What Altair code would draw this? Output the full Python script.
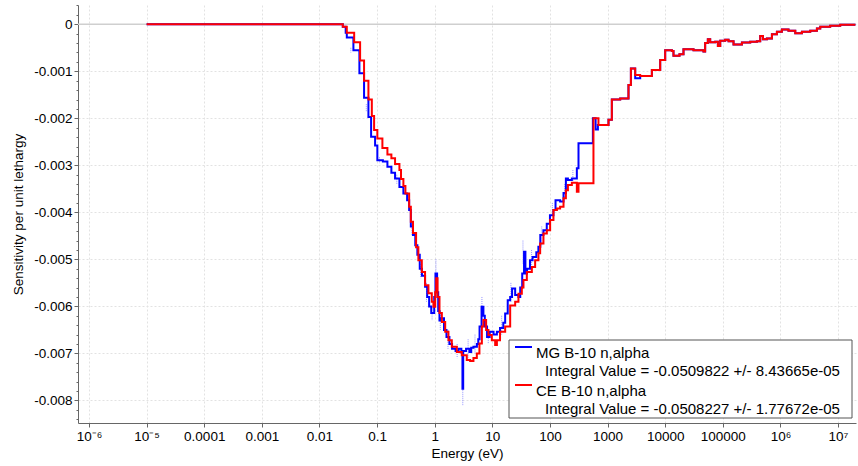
import math
import altair as alt
import pandas as pd

# ---------------- data ----------------
SERIES = ["MG B-10 n,alpha", "CE B-10 n,alpha"]
INTEGRALS = [
    "Integral Value = -0.0509822 +/- 8.43665e-05",
    "Integral Value = -0.0508227 +/- 1.77672e-05",
]
COLORS = ["#0000ff", "#ff0000"]

X_TICKS = [1e-6, 1e-5, 1e-4, 1e-3, 1e-2, 1e-1, 1, 10, 100, 1000, 1e4, 1e5, 1e6, 1e7]
X_LABELS = ["10⁻⁶", "10⁻⁵", "0.0001", "0.001", "0.01", "0.1", "1", "10",
            "100", "1000", "10000", "100000", "10⁶", "10⁷"]
Y_TICKS = [0, -0.001, -0.002, -0.003, -0.004, -0.005, -0.006, -0.007, -0.008]
Y_LABELS = ["0", "-0.001", "-0.002", "-0.003", "-0.004", "-0.005", "-0.006", "-0.007", "-0.008"]

E_END = 2.0e7  # upper edge of the last energy group

# shared high-energy part (both curves overlap there)
high_common = [
    (3683, -0.0011), (5875, -0.00097), (8190, -0.00076), (10000, -0.00055),
    (13070, -0.00057), (13930, -0.00067), (17700, -0.00064), (20780, -0.00053),
    (31000, -0.00055), (46200, -0.00058), (49400, -0.0004), (55000, -0.00032),
    (60400, -0.00038), (73800, -0.00037), (82200, -0.00046), (90200, -0.00035),
    (110000, -0.00033), (125700, -0.00036), (153500, -0.00043), (214700, -0.00039),
    (299000, -0.00037), (391000, -0.00036), (446000, -0.00025), (497000, -0.00032),
    (583000, -0.0003), (712000, -0.00021), (869000, -0.00016), (1.06e6, -0.00011),
    (1.38e6, -0.00014), (1.81e6, -0.00019), (2.36e6, -0.00016), (3.29e6, -0.00014),
    (4.3e6, -0.00009), (4.91e6, -0.00005), (7.3e6, -0.00003), (1.09e7, -0.00001),
]

ce_steps = [
    (1e-5, 0.0), (0.0254, -0.00005), (0.0298, -0.00018), (0.040, -0.00038),
    (0.0507, -0.00077), (0.0594, -0.0012), (0.0707, -0.0016), (0.081, -0.00195),
    (0.0887, -0.00225), (0.101, -0.00243), (0.1236, -0.00263), (0.151, -0.00277),
    (0.177, -0.00285), (0.205, -0.00297), (0.244, -0.0031), (0.26, -0.00329),
    (0.286, -0.00344), (0.31, -0.0036), (0.36, -0.00388), (0.385, -0.0042),
    (0.42, -0.00444), (0.475, -0.00474), (0.52, -0.00502), (0.597, -0.00527),
    (0.68, -0.00555), (0.778, -0.00572), (0.89, -0.0059), (0.95, -0.00601),
    (1.02, -0.0057), (1.06, -0.0054), (1.12, -0.0058), (1.21, -0.00614),
    (1.33, -0.00633), (1.52, -0.00654), (1.73, -0.00672), (1.98, -0.00686),
    (2.42, -0.00697), (2.95, -0.00704), (3.6, -0.00714), (4.12, -0.00716),
    (4.7, -0.0071), (5.38, -0.007), (5.97, -0.00679), (6.58, -0.00643),
    (7.0, -0.00629), (7.8, -0.0065), (8.55, -0.00661), (9.8, -0.00672),
    (11.2, -0.00682), (12.0, -0.00672), (13.6, -0.00654), (16.7, -0.00643),
    (20.4, -0.00598), (24.9, -0.0059), (28.4, -0.00573), (32.5, -0.0056),
    (34.7, -0.00544), (39.7, -0.00527), (48.5, -0.00516), (55.3, -0.00502),
    (63.1, -0.00487), (67.6, -0.00466), (77.1, -0.00445), (88.3, -0.00438),
    (100.7, -0.00416), (115, -0.00395), (132, -0.00392), (150, -0.00388),
    (172, -0.0037), (189, -0.00353), (205, -0.00342), (240, -0.00337),
    (293, -0.00356), (313, -0.00338), (569, -0.002), (695, -0.00214),
    (1038, -0.00203), (1186, -0.0016), (1655, -0.00158), (2307, -0.00129),
    (2540, -0.00094), (3016, -0.00108),
] + high_common

mg_steps = [
    (1e-5, 0.0), (0.0254, -0.00005), (0.0285, -0.00018), (0.0298, -0.00028),
    (0.0388, -0.00055), (0.0493, -0.00104), (0.0594, -0.00156), (0.0707, -0.00197),
    (0.0787, -0.00239), (0.0923, -0.00258), (0.101, -0.00289), (0.126, -0.00292),
    (0.151, -0.00303), (0.177, -0.00316), (0.205, -0.00328), (0.244, -0.00346),
    (0.286, -0.0036), (0.332, -0.00374), (0.36, -0.00395), (0.385, -0.0043),
    (0.42, -0.00448), (0.46, -0.0047), (0.5, -0.0049), (0.55, -0.0052),
    (0.6, -0.00535), (0.68, -0.00558), (0.74, -0.0058), (0.8, -0.006),
    (0.87, -0.00614), (0.98, -0.0058), (1.03, -0.0053), (1.1, -0.0057),
    (1.15, -0.0061), (1.21, -0.0063), (1.3, -0.00625), (1.45, -0.0065),
    (1.6, -0.00665), (1.8, -0.0068), (2.0, -0.0069), (2.3, -0.00695),
    (2.6, -0.0069), (2.9, -0.00698), (3.03, -0.00775), (3.12, -0.00695),
    (3.5, -0.0069), (4.0, -0.00697), (4.3, -0.00688), (4.7, -0.00686),
    (5.4, -0.0068), (5.7, -0.0067), (6.0, -0.00643), (6.5, -0.00601),
    (7.0, -0.0062), (7.4, -0.00643), (8.1, -0.00665), (9.0, -0.00654),
    (10.5, -0.0066), (12, -0.00654), (13.6, -0.00646), (15.5, -0.00635),
    (16.7, -0.00615), (18.5, -0.00587), (20.4, -0.0058), (22, -0.00562),
    (24.9, -0.00576), (28.4, -0.0058), (30.5, -0.0056), (33, -0.0053),
    (35.5, -0.00484), (37.5, -0.0053), (40, -0.0052), (45, -0.00502),
    (50, -0.00495), (58, -0.00485), (63, -0.00473), (68, -0.00448),
    (77, -0.00438), (88, -0.00424), (100, -0.00406), (115, -0.00395),
    (125, -0.00374), (150, -0.00377), (172, -0.00359), (189, -0.00328),
    (205, -0.00331), (240, -0.00328), (293, -0.00306), (313, -0.00253),
    (556, -0.002), (620, -0.00224), (680, -0.00214), (1038, -0.00203),
    (1186, -0.0016), (1655, -0.00158), (2307, -0.00129), (2540, -0.00094),
    (3016, -0.00115),
] + high_common

# MG statistical error bars (energy, low, high)
mg_errors = [
    (0.035, -0.0005, -0.0006), (0.065, -0.0017, -0.00185), (0.11, -0.00283, -0.00296),
    (0.22, -0.0032, -0.0034), (0.4, -0.0042, -0.0045), (0.57, -0.0051, -0.0054),
    (0.72, -0.0055, -0.0059), (0.9, -0.006, -0.0063), (1.05, -0.005, -0.0056),
    (1.25, -0.0061, -0.0065), (1.7, -0.0065, -0.0069), (2.45, -0.0068, -0.0071),
    (3.07, -0.0074, -0.0081), (3.8, -0.0067, -0.0071), (5.0, -0.0066, -0.007),
    (6.6, -0.0058, -0.0062), (8.5, -0.0065, -0.0068), (14.5, -0.0062, -0.0066),
    (21, -0.0055, -0.0059), (34, -0.0046, -0.0051), (48, -0.0048, -0.0052),
    (72, -0.0043, -0.0047), (110, -0.0038, -0.0041), (180, -0.0034, -0.0037),
    (250, -0.0031, -0.0034),
]

# ---------------- tables ----------------
rows = []
for name, steps in zip(SERIES, [mg_steps, ce_steps]):
    for e, v in steps:
        rows.append({"energy": e, "value": v, "series": name})
    rows.append({"energy": E_END, "value": steps[-1][1], "series": name})
df = pd.DataFrame(rows)
err_df = pd.DataFrame(mg_errors, columns=["energy", "lo", "hi"])
one = pd.DataFrame({"k": [0]})

FONT = "Liberation Sans"

x_expr = ":".join(
    f"abs(log(datum.value)/LN10-({round(math.log10(v))}))<0.01?'{lab}'"
    for v, lab in zip(X_TICKS, X_LABELS)) + ":''"
y_expr = ":".join(
    f"abs(datum.value-({v}))<1e-7?'{lab}'" for v, lab in zip(Y_TICKS, Y_LABELS)) + ":''"
y_minor = [round(0.0004 - 0.0002 * i, 4) for i in range(45)]
y_major_test = "abs(datum.value*1000-round(datum.value*1000))<0.001"

x_scale = alt.Scale(type="log", domain=[6.44e-7, 2.05e7])
y_scale = alt.Scale(domain=[-0.00848, 0.00041], nice=False, zero=False)

x_axis = alt.Axis(values=X_TICKS, labelExpr=x_expr, grid=True, tickSize=4,
                  labelPadding=2, titlePadding=4, labelFlush=False, labelOverlap=False)
y_axis = alt.Axis(values=y_minor, labelExpr=y_expr, grid=True,
                  tickSize={"condition": {"test": y_major_test, "value": 4}, "value": 2},
                  gridOpacity={"condition": {"test": y_major_test, "value": 1}, "value": 0},
                  labelPadding=2, titlePadding=8, labelOverlap=False, labelFlush=False)

X = lambda f: alt.X(f"{f}:Q", scale=x_scale, axis=x_axis, title="Energy (eV)")
Y = lambda f: alt.Y(f"{f}:Q", scale=y_scale, axis=y_axis, title="Sensitivity per unit lethargy")

color = alt.Color("series:N", scale=alt.Scale(domain=SERIES, range=COLORS), legend=None)

zero_line = alt.Chart(pd.DataFrame({"value": [0.0]})).mark_rule(
    color="#cfcfcf", strokeWidth=1.5).encode(y=Y("value"))

err = alt.Chart(err_df).mark_rule(color="#7878ff", strokeWidth=1, strokeDash=[1, 1],
                                  opacity=0.8).encode(x=X("energy"), y=Y("lo"), y2="hi")

lines = [
    alt.Chart(df).transform_filter(alt.datum.series == s).mark_line(
        interpolate="step-after", strokeWidth=2).encode(x=X("energy"), y=Y("value"), color=color)
    for s in SERIES
]

# ---------------- legend box (drawn manually) ----------------
legend_layers = [
    alt.Chart(one).mark_rect(fill="white", stroke="#555555", strokeWidth=1).encode(
        x=alt.value(431), x2=alt.value(774), y=alt.value(335), y2=alt.value(413))
]
for i, (name, integ, col) in enumerate(zip(SERIES, INTEGRALS, COLORS)):
    dy = 38 * i
    legend_layers.append(alt.Chart(one).mark_rule(color=col, strokeWidth=2).encode(
        x=alt.value(437), x2=alt.value(454), y=alt.value(342 + dy)))
    legend_layers.append(alt.Chart(one).mark_text(
        align="left", baseline="middle", font=FONT, fontSize=15, color="#000").encode(
        x=alt.value(458), y=alt.value(347.5 + dy), text=alt.value(name)))
    legend_layers.append(alt.Chart(one).mark_text(
        align="left", baseline="middle", font=FONT, fontSize=15, color="#000").encode(
        x=alt.value(467), y=alt.value(366 + dy), text=alt.value(integ)))

chart = alt.layer(zero_line, err, *lines, *legend_layers).properties(
    width=778, height=418,
    padding={"left": 78, "top": 5, "right": 2, "bottom": 43},
    autosize=alt.AutoSizeParams(type="none"),
).configure_view(stroke=None).configure_axis(
    labelFont=FONT, titleFont=FONT, labelFontSize=13.5, titleFontSize=13.5,
    titleFontWeight="normal", labelColor="#000", titleColor="#000",
    domainColor="#666666", tickColor="#666666", gridColor="#e2e2e2", gridDash=[2, 2],
)

chart.save("out.html", embed_options={"renderer": "svg", "actions": False})
